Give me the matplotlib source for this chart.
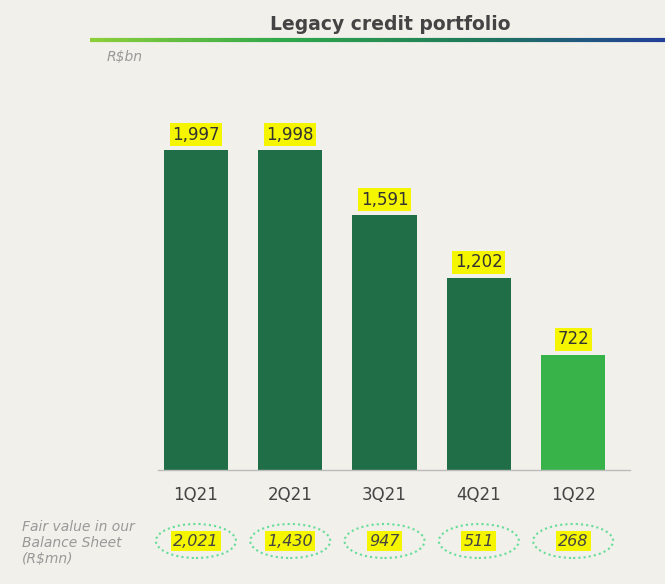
import matplotlib
matplotlib.use("Agg")
import matplotlib.pyplot as plt
import numpy as np
from matplotlib.patches import Ellipse
from matplotlib.collections import LineCollection
from matplotlib.colors import LinearSegmentedColormap

categories = ["1Q21", "2Q21", "3Q21", "4Q21", "1Q22"]
values = [1997, 1998, 1591, 1202, 722]
value_labels = ["1,997", "1,998", "1,591", "1,202", "722"]
fair_values = ["2,021", "1,430", "947", "511", "268"]

bg = "#f1f0ea"
fig = plt.figure(figsize=(6.65, 5.84), dpi=100, facecolor=bg)
ax = fig.add_axes([0.167, 0.195, 0.780, 0.658])
ax.set_facecolor(bg)
colors = ["#1f6e48"] * 4 + ["#37b34a"]
x = np.arange(len(categories))
ax.bar(x, values, width=0.68, color=colors)
ax.set_xlim(-0.9, 4.6)
ax.set_ylim(0, 2400)
for s in ax.spines.values():
    s.set_visible(False)
ax.set_yticks([])
ax.set_xticks([])
ax.plot([-0.4, 4.6], [0, 0], color="#bbbbbb", lw=1, clip_on=False)
for i, (v, l) in enumerate(zip(values, value_labels)):
    ax.text(i, v + 40, l, ha="center", va="bottom", fontsize=12, color="#333333",
            bbox=dict(boxstyle="square,pad=0.15", fc="#f5f500", ec="none"))
    ax.text(i, -100, categories[i], ha="center", va="top", fontsize=12, color="#444444")

for i, fv in enumerate(fair_values):
    xp = ax.transData.transform((i, 0))[0]
    xf = xp / 665
    yf = (584 - 541) / 584
    e = Ellipse((xf, yf), 80 / 665, 34 / 584, transform=fig.transFigure,
                fill=False, ec="#66dd99", ls=(0, (1, 1.5)), lw=1.5)
    fig.add_artist(e)
    fig.text(xf, yf, fv, ha="center", va="center", fontsize=11.5, style="italic",
             color="#444444", bbox=dict(boxstyle="square,pad=0.15", fc="#f5f500", ec="none"))

fig.text(22 / 665, 1 - 543 / 584, "Fair value in our\nBalance Sheet\n(R$mn)", ha="left",
         va="center", fontsize=10, style="italic", color="#999999", linespacing=1.2)
fig.text(390 / 665, 1 - 24 / 584, "Legacy credit portfolio", ha="center", va="center",
         fontsize=13.5, fontweight="bold", color="#444444")
fig.text(107 / 665, 1 - 57 / 584, "R$bn", ha="left", va="center", fontsize=10,
         style="italic", color="#999999")

xs = np.linspace(90 / 665, 1.0, 200)
ys = np.full_like(xs, 1 - 40 / 584)
pts = np.array([xs, ys]).T.reshape(-1, 1, 2)
segs = np.concatenate([pts[:-1], pts[1:]], axis=1)
cmap = LinearSegmentedColormap.from_list("g", ["#8ccf3a", "#2fa84a", "#1f7a5a", "#223f99"])
lc = LineCollection(segs, cmap=cmap, linewidths=3, transform=fig.transFigure)
lc.set_array(np.linspace(0, 1, len(segs)))
fig.add_artist(lc)

fig.savefig("out.png", dpi=100, facecolor=bg)
